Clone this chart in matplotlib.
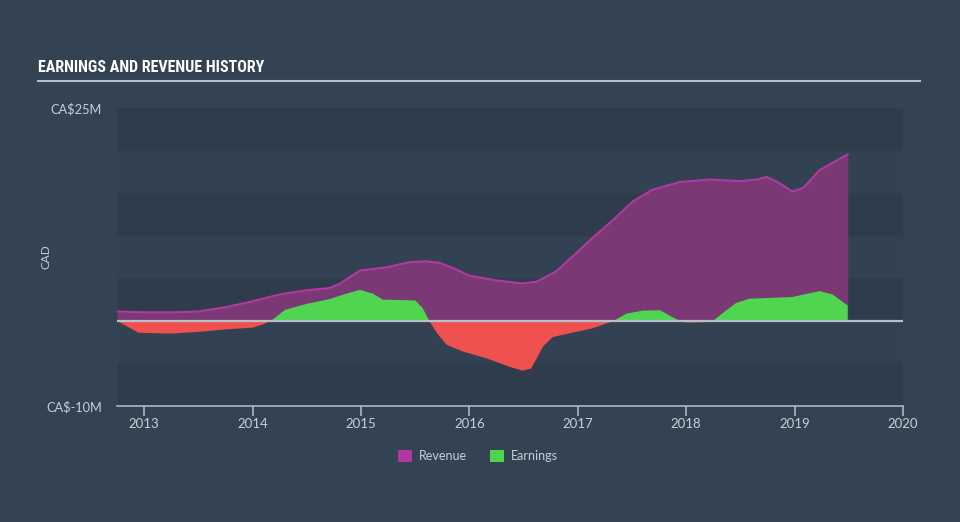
import matplotlib
matplotlib.use("Agg")
import matplotlib.pyplot as plt
from matplotlib.patches import Patch
from matplotlib import font_manager
import numpy as np

# ---- data (CA$ millions) ----
rev_years = [2012.75, 2013.0, 2013.25, 2013.5, 2013.75, 2014.0, 2014.25, 2014.5, 2014.71,
             2014.81, 2014.99, 2015.24, 2015.45, 2015.6, 2015.73, 2015.85, 2016.0, 2016.25,
             2016.49, 2016.62, 2016.8, 2016.99, 2017.15, 2017.33, 2017.51, 2017.69, 2017.94,
             2018.22, 2018.49, 2018.65, 2018.74, 2018.83, 2018.98, 2019.08, 2019.23, 2019.49]
revenue = [1.1, 1.0, 1.0, 1.1, 1.6, 2.3, 3.1, 3.6, 3.85,
           4.4, 5.9, 6.3, 6.9, 7.0, 6.8, 6.2, 5.3, 4.75,
           4.4, 4.6, 5.8, 8.0, 9.9, 11.9, 14.05, 15.4, 16.3,
           16.6, 16.4, 16.6, 16.9, 16.4, 15.2, 15.6, 17.7, 19.55]

earn_years = [2012.75, 2012.95, 2013.25, 2013.5, 2013.75, 2014.0, 2014.1, 2014.17, 2014.3,
              2014.5, 2014.71, 2014.83, 2014.99, 2015.11, 2015.2, 2015.5, 2015.57, 2015.63,
              2015.7, 2015.79, 2015.94, 2016.16, 2016.37, 2016.49, 2016.57, 2016.68, 2016.77,
              2016.93, 2017.14, 2017.29, 2017.33, 2017.45, 2017.6, 2017.76, 2017.85, 2017.94,
              2018.0, 2018.19, 2018.25, 2018.34, 2018.46, 2018.58, 2018.98, 2019.05, 2019.23,
              2019.35, 2019.49]
earnings = [0.0, -1.4, -1.5, -1.3, -1.0, -0.8, -0.4, 0.0, 1.3,
            2.0, 2.55, 3.06, 3.65, 3.2, 2.5, 2.4, 1.5, 0.0,
            -1.4, -2.8, -3.6, -4.4, -5.4, -5.85, -5.6, -3.0, -1.9,
            -1.45, -0.86, -0.2, 0.0, 0.85, 1.2, 1.25, 0.6, 0.0,
            -0.2, -0.15, 0.0, 0.95, 2.1, 2.6, 2.8, 3.0, 3.5,
            3.1, 1.8]

x_ticks = [2013, 2014, 2015, 2016, 2017, 2018, 2019, 2020]
y_ticks = [-10, 25]
y_tick_labels = ["CA$-10M", "CA$25M"]

# ---- style ----
BG = "#344353"
BAND_DARK = "#2e3c4b"
BAND_LIGHT = "#334252"
TXT = "#c9ced4"
AXIS = "#a9b8c6"
REV_FILL = "#7a3874"
REV_LINE = "#b03aa2"
GREEN = "#50d550"
RED = "#ef5050"

plt.rcParams['font.family'] = ['Lato', 'DejaVu Sans']

available = {f.name for f in font_manager.fontManager.ttflist}
title_family = 'DejaVu Sans'
title_size = 8.5
for cand, size in [('Roboto Condensed', 11.5), ('Open Sans Condensed', 11.5),
                   ('Liberation Sans Narrow', 10.5), ('DejaVu Sans Condensed', 9),
                   ('Roboto', 9.0)]:
    if cand in available:
        title_family, title_size = cand, size
        break

fig = plt.figure(figsize=(9.6, 5.22), dpi=100, facecolor=BG)
ax = fig.add_axes([117/960, 1-406/522, (903-117)/960, (406-108)/522])
ax.set_facecolor(BG)

ax.set_xlim(2012.75, 2020)
ax.set_ylim(-10, 25)

# background bands
edges = np.arange(-10, 26, 5)
for i in range(len(edges)-1):
    col = BAND_DARK if i % 2 == 0 else BAND_LIGHT
    ax.axhspan(edges[i], edges[i+1], color=col, zorder=0, lw=0)

rx = np.array(rev_years); ry = np.array(revenue)
ex = np.array(earn_years); ey = np.array(earnings)

ax.fill_between(rx, 0, ry, color=REV_FILL, lw=0, zorder=2)
ax.plot(rx, ry, color=REV_LINE, lw=1.5, zorder=3, solid_joinstyle="round")

ax.fill_between(ex, 0, ey, where=ey >= 0, interpolate=True, color=GREEN, lw=0, zorder=4)
ax.fill_between(ex, 0, ey, where=ey <= 0, interpolate=True, color=RED, lw=0, zorder=4)

ax.axhline(0, color="#b9bfc6", lw=1.6, zorder=5)

# axes styling
for s in ["top", "right", "left"]:
    ax.spines[s].set_visible(False)
ax.spines["bottom"].set_color(AXIS)
ax.spines["bottom"].set_linewidth(1.2)
ax.set_xticks(x_ticks)
ax.set_xticklabels([str(t) for t in x_ticks])
ax.tick_params(axis="x", colors=AXIS, length=7, width=1.2, labelcolor=TXT,
               labelsize=9.5, pad=2)
ax.set_yticks(y_ticks)
ax.set_yticklabels(y_tick_labels)
ax.tick_params(axis="y", length=0, labelcolor=TXT, labelsize=9.2, pad=11)
ax.set_ylabel("CAD", color=TXT, fontsize=8.5)
ax.yaxis.set_label_coords(-65/786, 0.5)

# title
fig.text(38/960, 1-68/522, "EARNINGS AND REVENUE HISTORY", color="white",
         fontsize=title_size, fontweight="bold", va="center", ha="left",
         family=[title_family, 'DejaVu Sans'])
fig.add_artist(plt.Line2D([38/960, 920/960], [1-81/522, 1-81/522],
                          color="#b8bec5", lw=1.5, transform=fig.transFigure))

# legend
handles = [Patch(facecolor="#b0379f", label="Revenue"),
           Patch(facecolor=GREEN, label="Earnings")]
leg = fig.legend(handles=handles, loc="center", bbox_to_anchor=(478/960, 1-456/522),
                 ncol=2, frameon=False, fontsize=9, handlelength=1.1, handleheight=1.1,
                 handletextpad=0.6, columnspacing=1.8)
for t in leg.get_texts():
    t.set_color(TXT)

fig.savefig("out.png", dpi=100, facecolor=BG)
